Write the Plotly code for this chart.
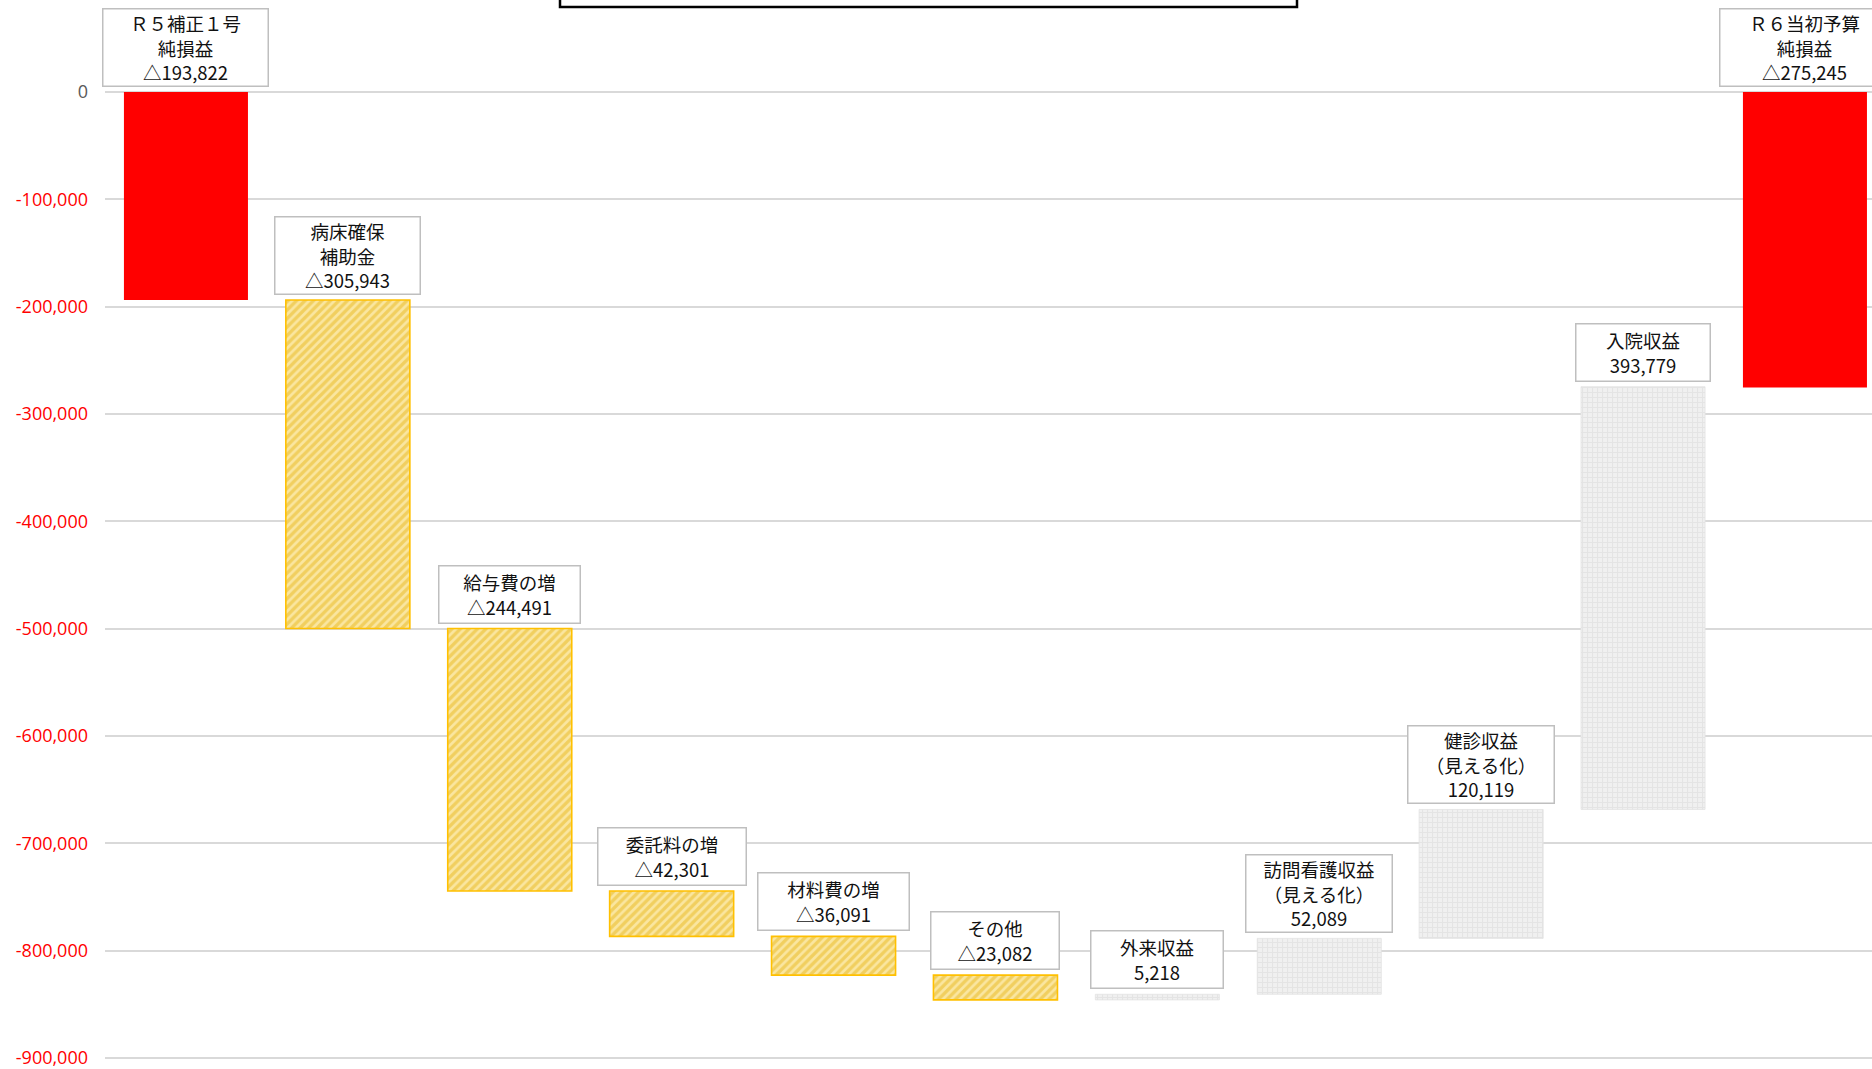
import numpy as np
import plotly.graph_objects as go

# ---------------- data ----------------
categories = ["Ｒ５補正１号純損益", "病床確保補助金", "給与費の増", "委託料の増", "材料費の増",
              "その他", "外来収益", "訪問看護収益（見える化）", "健診収益（見える化）",
              "入院収益", "Ｒ６当初予算純損益"]
label_names = ["Ｒ５補正１号<br>純損益", "病床確保<br>補助金", "給与費の増", "委託料の増",
               "材料費の増", "その他", "外来収益", "訪問看護収益<br>（見える化）",
               "健診収益<br>（見える化）", "入院収益", "Ｒ６当初予算<br>純損益"]
start_value = -193822
changes = [-305943, -244491, -42301, -36091, -23082, 5218, 52089, 120119, 393779]
end_value = -275245
tick_values = [0, -100000, -200000, -300000, -400000, -500000, -600000, -700000, -800000, -900000]

# ---------------- derived ----------------
values = [start_value] + changes + [end_value]
levels = start_value + np.cumsum(changes)
prev_levels = np.concatenate([[start_value], levels[:-1]])
bases = [0] + list(prev_levels) + [0]

def fmt(v):
    return ("△" if v < 0 else "") + f"{abs(v):,}"

n = len(categories)
idx_total = [0, n - 1]
idx_dec = [i for i in range(1, n - 1) if values[i] < 0]
idx_inc = [i for i in range(1, n - 1) if values[i] >= 0]

BAR_W = 0.766
fig = go.Figure()

def add_bars(ids, color, line_color, line_w, pattern):
    fig.add_trace(go.Bar(
        x=[categories[i] for i in ids],
        y=[values[i] for i in ids],
        base=[bases[i] for i in ids],
        width=BAR_W,
        marker=dict(color=color, line=dict(color=line_color, width=line_w), pattern=pattern),
        hovertext=[fmt(values[i]) for i in ids],
        hoverinfo="x+text",
        showlegend=False,
    ))

add_bars(idx_total, "#FF0000", "#FF0000", 0, dict(shape=""))
add_bars(idx_dec, "#F8E08A", "#FFC000", 1.6,
         dict(shape="/", fgcolor="#E8B81E", bgcolor="#FAE6A0", size=6, solidity=0.55))
add_bars(idx_inc, "#ECECEC", "#E2E2E2", 0.8,
         dict(shape="+", fgcolor="#D8D8D8", bgcolor="#F0F0F0", size=5, solidity=0.4))

# label boxes
box_widths = [160, 140, 136, 143, 146, 123, 127, 141, 141, 129, 164]
for i in range(n):
    top = max(bases[i], bases[i] + values[i])
    text = label_names[i] + "<br>" + fmt(values[i])
    nlines = text.count("<br>") + 1
    fig.add_annotation(
        x=categories[i], y=top, xref="x", yref="y",
        text=text, showarrow=False, yanchor="bottom", yshift=5,
        font=dict(family="Noto Sans CJK JP", size=18.5, color="#111111"),
        bgcolor="#FFFFFF", bordercolor="#BFBFBF", borderwidth=1.5, borderpad=2,
        width=box_widths[i], height=20 * nlines + 12, align="center", valign="middle",
    )

# empty framed box at top (truncated)
fig.add_shape(type="rect", xref="paper", yref="paper",
              x0=(560 - 105) / 1767, x1=(1297 - 105) / 1767,
              y0=1 - 7 / 1069, y1=1.05,
              line=dict(color="#000000", width=2.5), fillcolor="rgba(0,0,0,0)", layer="above")

tick_text = [('<span style="color:#595959">0</span>' if v == 0 else
              f'<span style="color:#FF0000">-{abs(v):,}</span>') for v in tick_values]

fig.update_layout(
    width=1872, height=1069,
    margin=dict(l=105, r=0, t=0, b=0),
    paper_bgcolor="#FFFFFF", plot_bgcolor="#FFFFFF",
    barmode="overlay",
    xaxis=dict(type="category", categoryorder="array", categoryarray=categories,
               range=[-0.5, -0.5 + 1767 / 161.9], showticklabels=False,
               showgrid=False, zeroline=False, showline=False, ticks=""),
    yaxis=dict(range=[-910100, 85700], tickmode="array", tickvals=tick_values,
               ticktext=tick_text, showgrid=True, gridcolor="#D9D9D9", gridwidth=1.5,
               zeroline=False, showline=False, ticks="", ticklabelstandoff=16,
               ticklabeloverflow="allow",
               tickfont=dict(family="Open Sans", size=18, color="#FF0000")),
    font=dict(family="Noto Sans CJK JP"),
)

fig.write_html("out.html")
